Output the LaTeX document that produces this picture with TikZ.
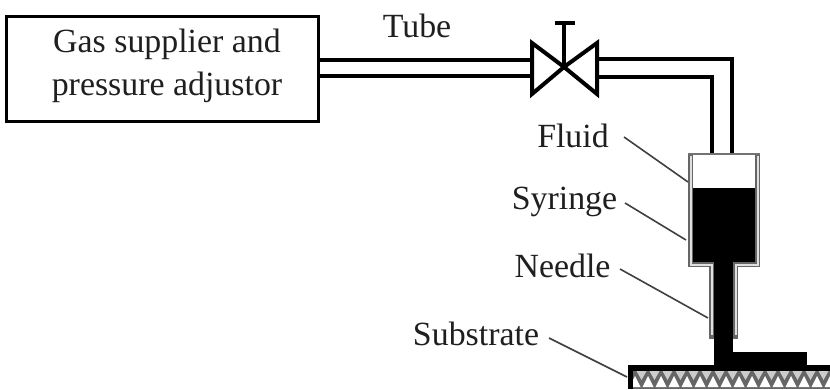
\documentclass[tikz,border=0pt]{standalone}
\usepackage{fontspec}
\setmainfont{Liberation Serif}
\begin{document}
\begin{tikzpicture}[x=0.75pt,y=-0.75pt,
  pipe/.style={line width=3pt,draw=black},
  wall/.style={line width=3.4pt,draw=black!60},
  wallin/.style={line width=1.5pt,draw=black!12},
  leader/.style={line width=1.2pt,draw=black!75},
  lbl/.style={font=\fontsize{25.4}{32.5}\selectfont,inner sep=0pt,text=black!88,align=center},
  tag/.style={lbl,anchor=base}]
\useasboundingbox (0,0) rectangle (830,389);
\fill[white] (0,0) rectangle (830,389);
% supplier box
\node[draw=black,line width=2.7pt,minimum width=234pt,minimum height=79pt,inner sep=0pt] (box) at (162.5,69) {};
\node[lbl] (boxtext) at (167,66) {Gas supplier and\\pressure adjustor};
% valve
\coordinate (vc) at (564,67);
\coordinate (vlt) at (532,43); \coordinate (vlb) at (532,94);
\coordinate (vrt) at (597,43); \coordinate (vrb) at (597,94);
\coordinate (vtop) at (564,23);
\draw[line width=3pt,line join=miter] (vc) -- (vlt) -- (vlb) -- cycle;
\draw[line width=3pt,line join=miter] (vc) -- (vrt) -- (vrb) -- cycle;
\draw[line width=3pt] (vc) -- (vtop);
\draw[line width=3pt] (555,23) -- (575,23);
% left tube
\draw[pipe] (box.east |- 0,60) -- (vlt |- 0,60);
\draw[pipe] (box.east |- 0,76) -- (vlt |- 0,76);
% syringe body
\fill[black] (693,188) rectangle (755,262);
\fill[black] (714,262) rectangle (733,365);
\fill[black] (733,352) rectangle (807,365);
\draw[wall,line join=miter] (690.5,154) -- (690.5,264.5) -- (711.5,264.5) -- (711.5,336.5) -- (714,336.5);
\draw[wall,line join=miter] (757.5,154) -- (757.5,264.5) -- (735.5,264.5) -- (735.5,336.5) -- (733,336.5);
\draw[wallin] (690.5,156) -- (690.5,264.5) -- (711.5,264.5) -- (711.5,335);
\draw[wallin] (757.5,156) -- (757.5,264.5) -- (735.5,264.5) -- (735.5,335);
\draw[line width=1.6pt,draw=black!55] (688,154) -- (760,154);
% right tube
\coordinate (t1) at (732,59); \coordinate (t2) at (712,77);
\draw[pipe,line join=miter] (vrt |- t1) -- (t1) -- (732,153);
\draw[pipe,line join=miter] (vrt |- t2) -- (t2) -- (712,153);
% substrate
\fill[black] (628,365) rectangle (830,389);
\fill[black!60] (633,371) rectangle (830,389);
\begin{scope}
\clip (633,371) rectangle (830,389);
\foreach \i in {0,...,16}{
  \fill[white] ({629.5+\i*13},387) -- ({640.5+\i*13},387) -- ({635+\i*13},376) -- cycle;
  \fill[black!20] ({636.5+\i*13},371) -- ({646.5+\i*13},371) -- ({641.5+\i*13},380) -- cycle;
}
\end{scope}
% labels
\node[tag] (tube) at (417,37) {Tube};
\node[tag] (fluid) at (573,147) {Fluid};
\node[tag] (syringe) at (564.5,209) {Syringe};
\node[tag] (needle) at (562.5,277) {Needle};
\node[tag] (substrate) at (476,345) {Substrate};
% leaders
\coordinate (lf) at (688,182);
\coordinate (ls) at (686,240);
\coordinate (ln) at (708,318);
\coordinate (lb) at (627,377);
\draw[leader] (624,137) -- (lf);
\draw[leader] (625,203) -- (ls);
\draw[leader] (620,269) -- (ln);
\draw[leader] (549,338) -- (lb);
\end{tikzpicture}
\end{document}
